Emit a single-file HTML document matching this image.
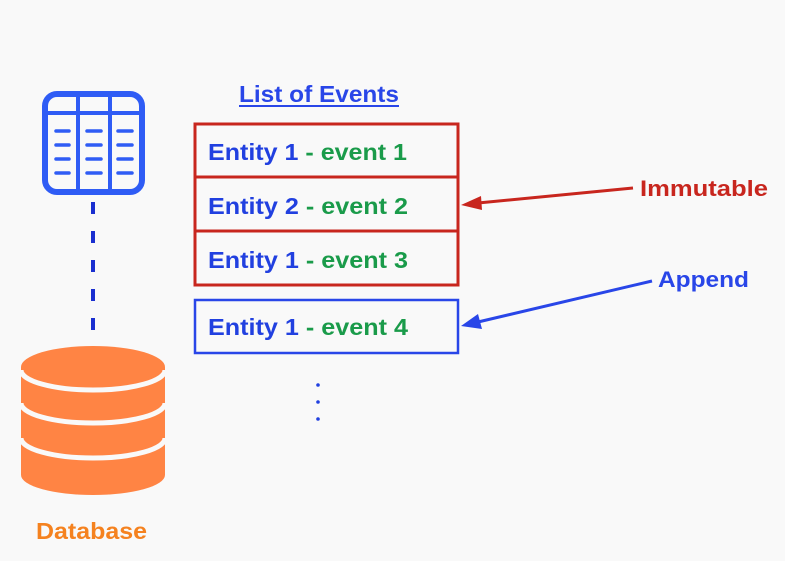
<!DOCTYPE html>
<html><head><style>
html,body{margin:0;padding:0;background:#f9f9f9;}
svg{display:block;}
text{font-family:"Liberation Sans",Arial,sans-serif;font-weight:bold;}
</style></head><body>
<svg width="785" height="561" viewBox="0 0 785 561">
<rect width="785" height="561" fill="#f9f9f9"/>
<!-- table icon -->
<rect x="45" y="94" width="97" height="98" rx="12" fill="none" stroke="#2f5cf5" stroke-width="6"/>
<line x1="45" y1="113" x2="142" y2="113" stroke="#2f5cf5" stroke-width="4"/>
<line x1="78" y1="94" x2="78" y2="192" stroke="#2f5cf5" stroke-width="4"/>
<line x1="110" y1="94" x2="110" y2="192" stroke="#2f5cf5" stroke-width="4"/>
<g stroke="#2f5cf5" stroke-width="3.5" stroke-linecap="round">
<line x1="56" y1="131" x2="69" y2="131"/><line x1="87" y1="131" x2="101" y2="131"/><line x1="118" y1="131" x2="132" y2="131"/>
<line x1="56" y1="145" x2="69" y2="145"/><line x1="87" y1="145" x2="101" y2="145"/><line x1="118" y1="145" x2="132" y2="145"/>
<line x1="56" y1="159" x2="69" y2="159"/><line x1="87" y1="159" x2="101" y2="159"/><line x1="118" y1="159" x2="132" y2="159"/>
<line x1="56" y1="173" x2="69" y2="173"/><line x1="87" y1="173" x2="101" y2="173"/><line x1="118" y1="173" x2="132" y2="173"/>
</g>
<line x1="93" y1="202" x2="93" y2="338" stroke="#1a2fd0" stroke-width="4" stroke-dasharray="12,17"/>
<!-- database -->
<g fill="#ff8444">
<path d="M21 367 L21 475 A72 20 0 0 0 165 475 L165 367 Z"/>
<ellipse cx="93" cy="367" rx="72" ry="21"/>
</g>
<g fill="none" stroke="#f9f9f9" stroke-width="5">
<path d="M21 370 A72 20 0 0 0 165 370"/>
<path d="M21 403 A72 20 0 0 0 165 403"/>
<path d="M21 438 A72 20 0 0 0 165 438"/>
</g>
<text x="36" y="539" font-size="23" fill="#f5821f" textLength="111" lengthAdjust="spacingAndGlyphs">Database</text>
<!-- list -->
<text x="239" y="102" font-size="23" fill="#2946e8" textLength="160" lengthAdjust="spacingAndGlyphs">List of Events</text>
<line x1="239" y1="106" x2="399" y2="106" stroke="#2946e8" stroke-width="2"/>
<g fill="none" stroke="#c8261e" stroke-width="3">
<rect x="195" y="124" width="263" height="161"/>
<line x1="195" y1="177" x2="458" y2="177"/>
<line x1="195" y1="231" x2="458" y2="231"/>
</g>
<rect x="195" y="300" width="263" height="53" fill="none" stroke="#2946e8" stroke-width="2.5"/>
<g font-size="23">
<text x="208" y="160" textLength="199" lengthAdjust="spacingAndGlyphs"><tspan fill="#2140e0">Entity 1</tspan><tspan fill="#1a9b4a"> - event 1</tspan></text>
<text x="208" y="214" textLength="200" lengthAdjust="spacingAndGlyphs"><tspan fill="#2140e0">Entity 2</tspan><tspan fill="#1a9b4a"> - event 2</tspan></text>
<text x="208" y="268" textLength="200" lengthAdjust="spacingAndGlyphs"><tspan fill="#2140e0">Entity 1</tspan><tspan fill="#1a9b4a"> - event 3</tspan></text>
<text x="208" y="335" textLength="200" lengthAdjust="spacingAndGlyphs"><tspan fill="#2140e0">Entity 1</tspan><tspan fill="#1a9b4a"> - event 4</tspan></text>
</g>
<g fill="#2140e0"><circle cx="318" cy="385" r="1.8"/><circle cx="318" cy="402" r="1.8"/><circle cx="318" cy="419" r="1.8"/></g>
<!-- arrows -->
<line x1="633" y1="188" x2="478" y2="203" stroke="#c8261e" stroke-width="3"/>
<polygon points="461,205 481,196 482,210" fill="#c8261e"/>
<text x="640" y="196" font-size="22" fill="#c8261e" textLength="128" lengthAdjust="spacingAndGlyphs">Immutable</text>
<line x1="652" y1="281" x2="478" y2="322" stroke="#2946e8" stroke-width="3"/>
<polygon points="461,326 478,314 482,329" fill="#2946e8"/>
<text x="658" y="287" font-size="22" fill="#2946e8" textLength="91" lengthAdjust="spacingAndGlyphs">Append</text>
</svg>
</body></html>
